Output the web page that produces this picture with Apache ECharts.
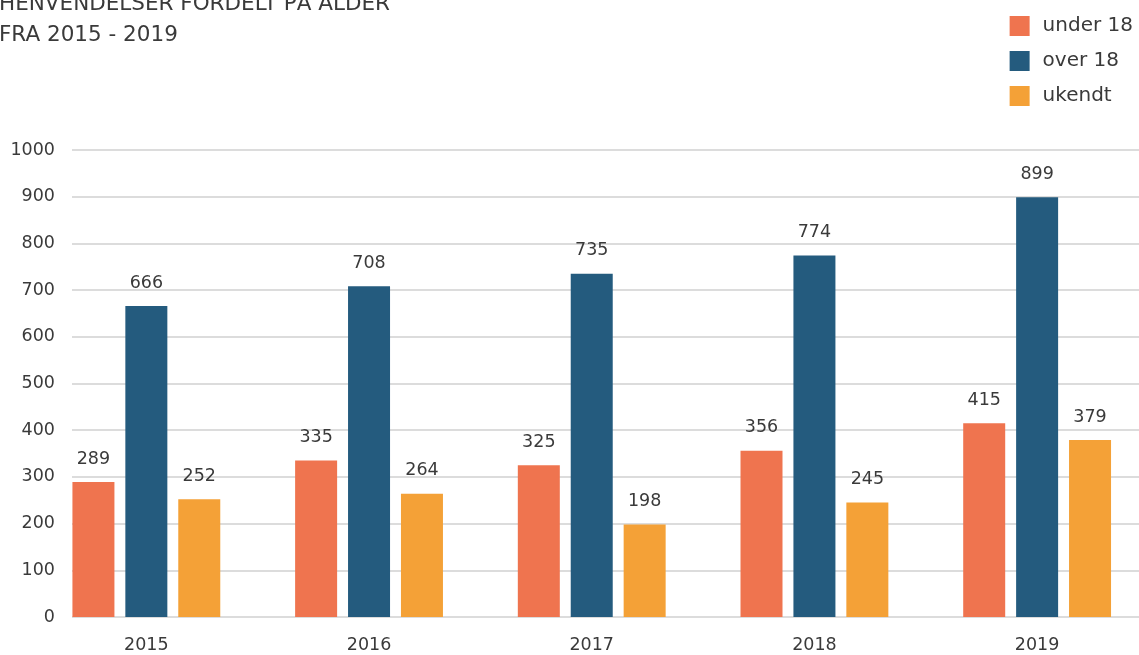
<!DOCTYPE html>
<html>
<head>
<meta charset="utf-8">
<script src="https://cdn.jsdelivr.net/npm/echarts@6/dist/echarts.min.js"></script>
<style>html,body{margin:0;padding:0;background:#fff}#c{width:1139px;height:655px}</style>
</head>
<body>
<div id="c"></div>
<script>
const years = ['2015', '2016', '2017', '2018', '2019'];
const under18 = [289, 335, 325, 356, 415];
const over18 = [666, 708, 735, 774, 899];
const ukendt = [252, 264, 198, 245, 379];
const seriesNames = ['under 18', 'over 18', 'ukendt'];
const colors = ['#ef744f', '#245b7e', '#f4a137'];
const titleLines = ['HENVENDELSER FORDELT PÅ ALDER', 'FRA 2015 - 2019'];

const font = '"DejaVu Sans", sans-serif';
const textColor = '#3a3a3a';
const chart = echarts.init(document.getElementById('c'));
const label = {show: true, position: 'top', distance: 14, color: textColor, fontSize: 17.5, fontFamily: font};
function mk(name, data, color) {
  return {name, type: 'bar', data: data.map((v, i) => [i, v]), xAxisIndex: 0, yAxisIndex: 0,
    barWidth: 42, barGap: '26%', itemStyle: {color}, label, emphasis: {disabled: true}};
}
// band of 223.3 px per year; the band axis starts half a band left of the first year
const bandPx = 223.3, barGridLeft = 35, chartW = 1139;
const xMax = -0.5 + (chartW - barGridLeft) / bandPx;
chart.setOption({
  animation: false,
  color: colors,
  title: {text: titleLines.join('\n'), left: -6, top: -16,
    textStyle: {fontFamily: font, fontWeight: 'normal', fontSize: 21.5, color: textColor, lineHeight: 31}},
  legend: {orient: 'vertical', right: 1, top: 11, itemWidth: 20, itemHeight: 20, itemGap: 15,
    icon: 'rect', data: seriesNames,
    textStyle: {fontFamily: font, fontSize: 20, color: textColor, padding: [0, 0, 0, 8]}},
  grid: [
    {left: barGridLeft, right: 0, top: 150, bottom: 38},
    {left: 72, right: 0, top: 150, bottom: 38}
  ],
  xAxis: [
    {type: 'value', gridIndex: 0, min: -0.5, max: xMax, interval: 0.5,
     axisLine: {show: false}, axisTick: {show: false}, splitLine: {show: false},
     axisLabel: {color: textColor, fontSize: 17.5, fontFamily: font, margin: 19, showMinLabel: true, showMaxLabel: true,
       formatter: v => (Number.isInteger(v) && years[v] !== undefined) ? years[v] : ''}},
    {type: 'value', gridIndex: 1, show: false}
  ],
  yAxis: [
    {type: 'value', gridIndex: 0, min: 0, max: 1000, interval: 100, show: false, splitLine: {show: false}},
    {type: 'value', gridIndex: 1, min: 0, max: 1000, interval: 100,
     axisLine: {show: false}, axisTick: {show: false},
     axisLabel: {color: textColor, fontSize: 17.5, fontFamily: font, margin: 17, formatter: v => String(v)},
     splitLine: {lineStyle: {color: '#dcdcdc', width: 2}}}
  ],
  series: [mk(seriesNames[0], under18, colors[0]), mk(seriesNames[1], over18, colors[1]), mk(seriesNames[2], ukendt, colors[2])]
});
</script>
</body>
</html>
